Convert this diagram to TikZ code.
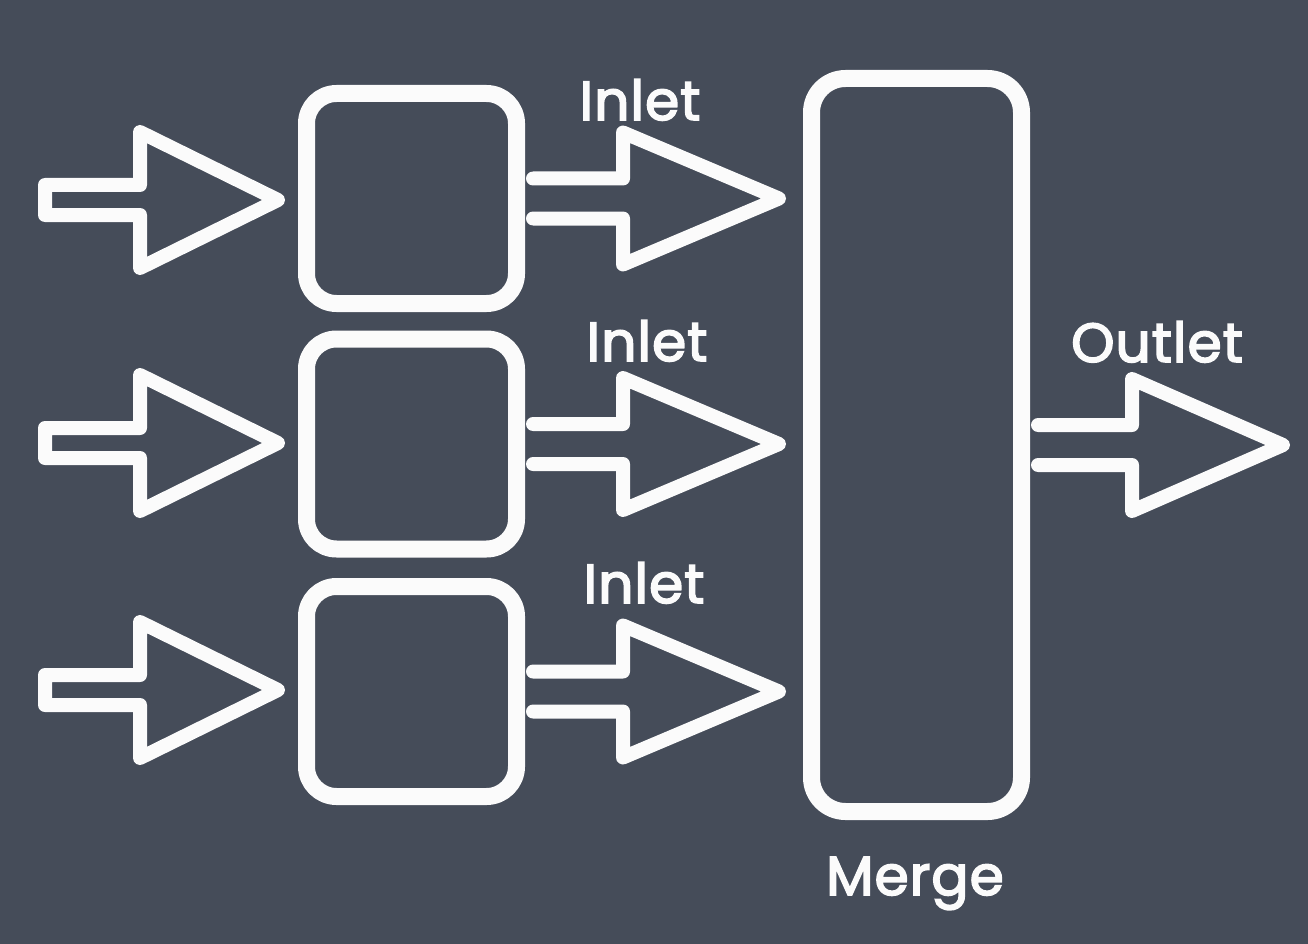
\documentclass[tikz,border=0pt]{standalone}
\usepackage{fontspec}
\setmainfont{Poppins}
\newfontface\chalkfont[FakeBold=3, LetterSpace=2]{Poppins}
\definecolor{board}{HTML}{454C59}
\definecolor{chalkw}{HTML}{FBFBFB}
\tikzset{
  chalkline/.style={draw=chalkw, line width=14pt, line join=round, line cap=round},
  box/.style={chalkline, line width=17pt, rounded corners=30pt, inner sep=0pt},
  lbl/.style={text=chalkw, anchor=base, font=\fontsize{55}{60}\chalkfont},
  inarrow/.pic={\draw[chalkline] (0,-15) -- (95,-15) -- (95,-68) -- (233,0) -- (95,68) -- (95,15) -- (0,15) -- cycle;},
  outarrow/.pic={\draw[chalkline] (0,-20) -- (90,-20) -- (90,-66) -- (246,0) -- (90,66) -- (90,20) -- (0,20);},
  exitarrow/.pic={\draw[chalkline] (0,-20) -- (94,-20) -- (94,-66) -- (245,0) -- (94,66) -- (94,20) -- (0,20);}
}
\begin{document}
\begin{tikzpicture}[x=1pt, y=-1pt]
\fill[board] (0,0) rectangle (1308,944);
\useasboundingbox (0,0) rectangle (1308,944);
% boxes
\node[box, minimum width=210pt, minimum height=210pt] (b1) at (411.5,198.5) {};
\node[box, minimum width=210pt, minimum height=210pt] (b2) at (411.5,444) {};
\node[box, minimum width=210pt, minimum height=210pt] (b3) at (411.5,691.5) {};
\node[box, rounded corners=34pt, minimum width=210pt, minimum height=733pt] (m) at (916.5,445) {};
% input arrows
\coordinate (t1) at (45,200);
\coordinate (t2) at (45,443);
\coordinate (t3) at (45,690);
\pic at (t1) {inarrow};
\pic at (t2) {inarrow};
\pic at (t3) {inarrow};
% output arrows
\pic at ([xshift=8pt]b1.east) {outarrow};
\pic at ([xshift=8pt]b2.east) {outarrow};
\pic at ([xshift=8pt]b3.east) {outarrow};
\pic at ([xshift=8pt]m.east) {exitarrow};
% labels
\node[lbl] (l1) at (640,120) {Inlet};
\node[lbl] (l2) at (647,361) {Inlet};
\node[lbl] (l3) at (644,603) {Inlet};
\node[lbl] (lo) at (1157,362) {Outlet};
\node[lbl] (lm) at (915,895) {Merge};
\end{tikzpicture}
\end{document}
